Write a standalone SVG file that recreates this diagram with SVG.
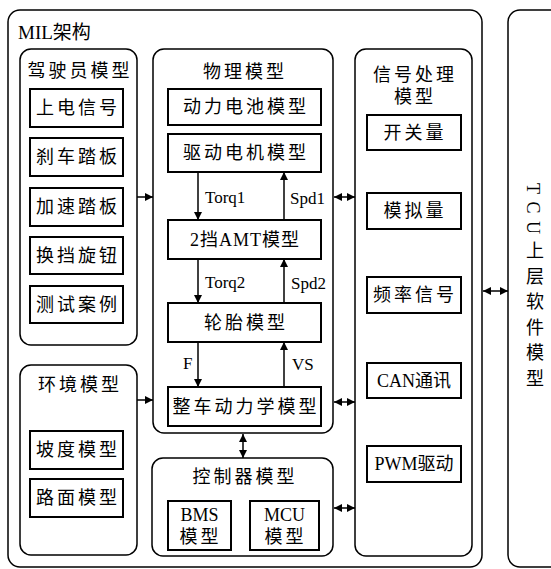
<svg xmlns="http://www.w3.org/2000/svg" width="551" height="569" viewBox="0 0 551 569">
<style>
.grp{fill:none;stroke:#000;stroke-width:1.5}
.box{fill:#fff;stroke:#000;stroke-width:2}
.t{font-family:"Liberation Serif","Noto Sans CJK SC",serif;font-size:18px;fill:#000;dominant-baseline:central;text-anchor:middle;letter-spacing:3px}
.s{font-family:"Liberation Serif",serif;font-size:17px;fill:#000;dominant-baseline:central}
.ln{stroke:#000;stroke-width:1.5;fill:none}
</style>
<defs>
<marker id="ah" viewBox="0 0 8 8" refX="8" refY="4" markerWidth="8" markerHeight="8" markerUnits="userSpaceOnUse" orient="auto-start-reverse">
<path d="M0,0 L8,4 L0,8 Z" fill="#000"/>
</marker>
</defs>
<rect width="551" height="569" fill="#fff"/>
<g id="mil">
<rect class="grp" x="8" y="10" width="474" height="557" rx="12"/>
<text class="t" x="18" y="32" style="text-anchor:start;letter-spacing:0;font-size:19px">MIL架构</text>
</g>
<g id="tcu">
<rect class="grp" x="508" y="10" width="60" height="557" rx="12"/>
<text class="t" x="533" y="183" writing-mode="vertical-rl" style="text-anchor:start;letter-spacing:7.5px;dominant-baseline:auto">TCU上层软件模型</text>
</g>
<g id="driver">
<rect class="grp" x="20" y="49" width="117" height="296" rx="11"/>
<text class="t" x="80" y="71">驾驶员模型</text>
</g>
<g id="n_power_on"><rect class="box" x="30" y="89" width="93" height="38"/><text class="t" x="78" y="108">上电信号</text></g>
<g id="n_brake"><rect class="box" x="30" y="138" width="93" height="38"/><text class="t" x="78" y="157">刹车踏板</text></g>
<g id="n_accel"><rect class="box" x="30" y="188" width="93" height="38"/><text class="t" x="78" y="207">加速踏板</text></g>
<g id="n_shift"><rect class="box" x="30" y="237" width="93" height="37"/><text class="t" x="78" y="255.5">换挡旋钮</text></g>
<g id="n_test"><rect class="box" x="30" y="286" width="93" height="37"/><text class="t" x="78" y="304.5">测试案例</text></g>
<g id="env">
<rect class="grp" x="20" y="365" width="117" height="190" rx="11"/>
<text class="t" x="80" y="385">环境模型</text>
</g>
<g id="n_slope"><rect class="box" x="30" y="431" width="93" height="38"/><text class="t" x="78" y="450">坡度模型</text></g>
<g id="n_road"><rect class="box" x="30" y="479" width="93" height="38"/><text class="t" x="78" y="498">路面模型</text></g>
<g id="phys">
<rect class="grp" x="153" y="49" width="180" height="384" rx="11"/>
<text class="t" x="245" y="72">物理模型</text>
</g>
<g id="n_batt"><rect class="box" x="168" y="89" width="153" height="36"/><text class="t" x="246" y="107">动力电池模型</text></g>
<g id="n_motor"><rect class="box" x="168" y="134" width="153" height="38"/><text class="t" x="246" y="153">驱动电机模型</text></g>
<g id="n_amt"><rect class="box" x="168" y="220" width="153" height="39"/><text class="t" x="245" y="239.5" style="letter-spacing:1px">2挡AMT模型</text></g>
<g id="n_tire"><rect class="box" x="168" y="303" width="153" height="39"/><text class="t" x="246" y="322.5">轮胎模型</text></g>
<g id="n_veh"><rect class="box" x="168" y="387" width="153" height="39"/><text class="t" x="246" y="406.5">整车动力学模型</text></g>
<g id="ctrl">
<rect class="grp" x="152" y="458" width="181" height="98" rx="11"/>
<text class="t" x="245" y="477">控制器模型</text>
</g>
<g id="n_bms"><rect class="box" x="168" y="501" width="63" height="49"/><text class="t" x="199.5" y="515" style="letter-spacing:0">BMS</text><text class="t" x="200.5" y="537">模型</text></g>
<g id="n_mcu"><rect class="box" x="250" y="501" width="69" height="49"/><text class="t" x="284.5" y="515" style="letter-spacing:0">MCU</text><text class="t" x="285.5" y="537">模型</text></g>
<g id="sig">
<rect class="grp" x="355" y="49" width="117" height="507" rx="11"/>
<text class="t" x="415" y="75">信号处理</text>
<text class="t" x="415" y="97">模型</text>
</g>
<g id="n_switch"><rect class="box" x="367" y="115" width="94" height="35"/><text class="t" x="415" y="132.5">开关量</text></g>
<g id="n_analog"><rect class="box" x="367" y="193" width="94" height="36"/><text class="t" x="415" y="211">模拟量</text></g>
<g id="n_freq"><rect class="box" x="367" y="277" width="94" height="36"/><text class="t" x="415" y="295">频率信号</text></g>
<g id="n_can"><rect class="box" x="367" y="363" width="94" height="35"/><text class="t" x="414" y="380.5" style="letter-spacing:0">CAN通讯</text></g>
<g id="n_pwm"><rect class="box" x="367" y="446" width="94" height="36"/><text class="t" x="414" y="464" style="letter-spacing:0">PWM驱动</text></g>
<g id="connectors">
<line class="ln" x1="198" y1="172" x2="198" y2="220" marker-end="url(#ah)"/>
<line class="ln" x1="198" y1="259" x2="198" y2="303" marker-end="url(#ah)"/>
<line class="ln" x1="198" y1="342" x2="198" y2="387" marker-end="url(#ah)"/>
<line class="ln" x1="284" y1="220" x2="284" y2="172" marker-end="url(#ah)"/>
<line class="ln" x1="284" y1="303" x2="284" y2="259" marker-end="url(#ah)"/>
<line class="ln" x1="284" y1="387" x2="284" y2="342" marker-end="url(#ah)"/>
<text class="s" x="205" y="197">Torq1</text>
<text class="s" x="290" y="198">Spd1</text>
<text class="s" x="205" y="282">Torq2</text>
<text class="s" x="291" y="283">Spd2</text>
<text class="s" x="183" y="363">F</text>
<text class="s" x="292" y="364">VS</text>
<line class="ln" x1="137" y1="197" x2="153" y2="197" marker-end="url(#ah)"/>
<line class="ln" x1="137" y1="400" x2="153" y2="400" marker-end="url(#ah)"/>
<line class="ln" x1="334" y1="197" x2="355" y2="197" marker-start="url(#ah)" marker-end="url(#ah)"/>
<line class="ln" x1="334" y1="402" x2="355" y2="402" marker-start="url(#ah)" marker-end="url(#ah)"/>
<line class="ln" x1="334" y1="508" x2="355" y2="508" marker-start="url(#ah)" marker-end="url(#ah)"/>
<line class="ln" x1="243" y1="434" x2="243" y2="458" marker-start="url(#ah)" marker-end="url(#ah)"/>
<line class="ln" x1="483" y1="291" x2="508" y2="291" marker-start="url(#ah)" marker-end="url(#ah)"/>
</g>
</svg>
